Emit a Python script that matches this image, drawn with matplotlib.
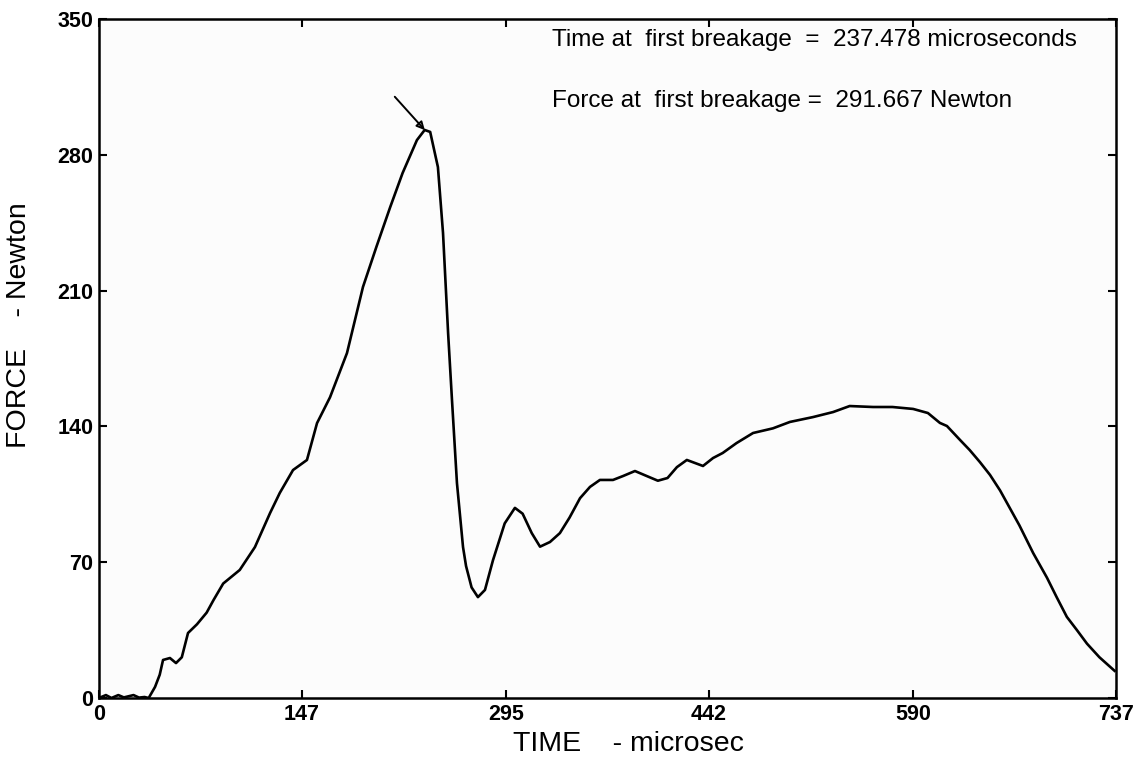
import matplotlib.pyplot as plt

# Force vs time trace
time = [0, 5, 9, 14, 18, 25, 29, 33, 36, 40.6, 44, 46.4, 51.4, 55.8, 60, 64.5,
        71, 78, 83, 90, 102, 113, 124, 131, 140.6, 150.7, 158, 167.4, 179.7,
        191.3, 201, 211, 220, 230.4, 236, 240, 245.6, 249.3, 253, 255.8, 259.4,
        263.8, 266, 270, 274.6, 279.7, 285.5, 294, 301.4, 307, 313.6, 319.6,
        326.8, 334, 341, 348.6, 355.8, 363, 372.5, 379.7, 388.4, 397, 405, 412,
        418.8, 426, 437.7, 445, 452, 462, 474, 488.4, 500.7, 517.4, 532, 544,
        561, 575, 590, 600.7, 609.4, 614.5, 624, 631, 638.4, 645.7, 653, 667,
        677, 687, 694, 701.4, 708.7, 716, 725, 736]
force = [0, 1.5, 0, 1.5, 0.3, 1.5, 0.2, 0.5, 0, 5.7, 12, 19.6, 20.6, 18, 21, 33.5,
         38, 44, 50.5, 59, 66, 77.8, 95.4, 105.7, 117.5, 122.7, 141.7, 155, 177.8,
         211.9, 232.5, 253, 270.6, 287.6, 292.8, 291.8, 273.7, 239.7, 188, 153.6, 110.8,
         77.8, 68, 57, 52, 55.7, 71, 90, 98, 95, 85, 78,
         80.4, 85, 93, 103, 108.8, 112.4, 112.4, 114.4, 117, 114.4, 112, 113.4,
         119, 122.7, 119.6, 123.7, 126.3, 131.4, 136.6, 139, 142.3, 144.8, 147.4, 150.5,
         150, 150, 149, 146.9, 141.8, 140.2, 133, 127.8, 121.6, 115, 107, 89,
         74.7, 62, 52, 41.8, 35, 28, 21, 14]

break_time = 237.478
break_force = 291.667

xticks = [0, 147, 295, 442, 590, 737]
yticks = [0, 70, 140, 210, 280, 350]

plt.rcParams['font.family'] = ['Liberation Sans', 'DejaVu Sans']

fig = plt.figure(figsize=(11.46, 7.61), dpi=100)
ax = fig.add_axes([0.0864, 0.0828, 0.8874, 0.8922])
ax.set_facecolor('#fcfcfc')

ax.plot(time, force, color='black', linewidth=1.9)

# arrow pointing at the first breakage
ax.annotate('', xy=(break_time, break_force), xytext=(213, 311),
            arrowprops=dict(arrowstyle='-|>', color='black', lw=1.4,
                            mutation_scale=12, fill=False))

ax.text(328, 339, 'Time at  first breakage  =  %.3f microseconds' % break_time,
        fontsize=17.5, va='center', ha='left')
ax.text(328, 308, 'Force at  first breakage =  %.3f Newton' % break_force,
        fontsize=17.5, va='center', ha='left')

ax.set_xlim(0, 737)
ax.set_ylim(0, 350)
ax.set_xticks(xticks)
ax.set_yticks(yticks)
ax.tick_params(direction='in', length=6, width=1.5, top=True, right=True,
               labelsize=15.5, pad=4)
for lab in ax.get_xticklabels() + ax.get_yticklabels():
    lab.set_fontweight('bold')
for sp in ax.spines.values():
    sp.set_linewidth(1.8)

ax.set_xlabel('TIME    - microsec', fontsize=20.5)
ax.set_ylabel('FORCE    - Newton', fontsize=20.5)
ax.xaxis.set_label_coords(0.5205, -0.048)
ax.yaxis.set_label_coords(-0.066, 0.549)

plt.savefig('out.png', dpi=100)
